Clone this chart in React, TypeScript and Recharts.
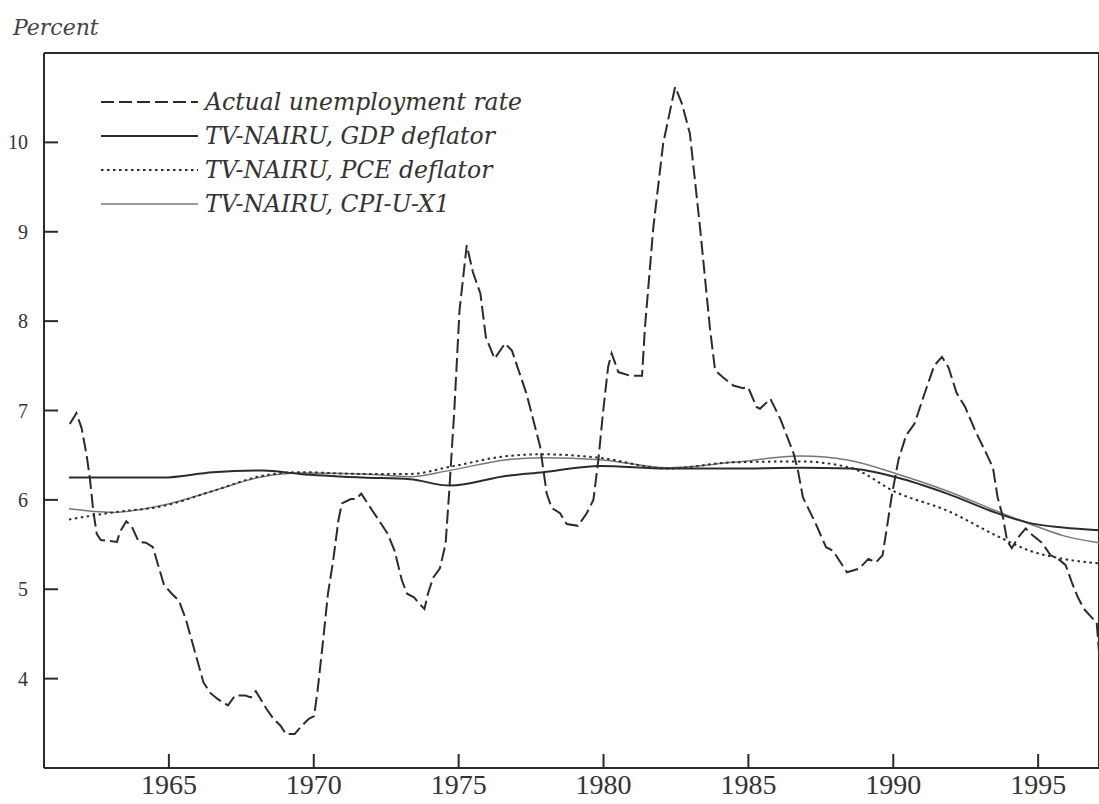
import React from "react";
import { LineChart, Line, XAxis, YAxis, ReferenceLine, Legend } from "recharts";

// actual unemployment rate
const unempYears = [
  1961.58, 1961.81, 1961.99, 1962.16, 1962.27, 1962.39, 1962.51, 1962.65, 1962.96, 1963.21,
  1963.31, 1963.53, 1963.72, 1963.96, 1964.21, 1964.45, 1964.62, 1964.83, 1965.1, 1965.35,
  1965.59, 1965.89, 1966.19, 1966.43, 1966.69, 1967.04, 1967.28, 1967.64, 1967.83, 1968.0,
  1968.37, 1968.61, 1968.86, 1969.04, 1969.34, 1969.58, 1969.83, 1970.01, 1970.13, 1970.31,
  1970.49, 1970.67, 1970.85, 1970.97, 1971.28, 1971.46, 1971.64, 1971.94, 1972.25, 1972.55,
  1972.79, 1973.04, 1973.22, 1973.46, 1973.64, 1973.82, 1973.94, 1974.12, 1974.35, 1974.55,
  1974.67, 1974.85, 1975.03, 1975.28, 1975.49, 1975.75, 1975.94, 1976.24, 1976.6, 1976.84,
  1977.34, 1977.81, 1978.04, 1978.21, 1978.5, 1978.73, 1979.12, 1979.42, 1979.65, 1979.82,
  1979.99, 1980.16, 1980.28, 1980.51, 1980.91, 1981.33, 1981.43, 1981.72, 1982.06, 1982.47,
  1982.7, 1982.98, 1983.33, 1983.67, 1983.85, 1984.13, 1984.48, 1984.82, 1984.99, 1985.28,
  1985.4, 1985.76, 1986.11, 1986.56, 1986.71, 1986.88, 1987.3, 1987.68, 1987.92, 1988.4,
  1988.82, 1989.14, 1989.4, 1989.63, 1989.78, 1989.96, 1990.18, 1990.44, 1990.73, 1991.06,
  1991.41, 1991.68, 1991.91, 1992.18, 1992.48, 1992.82, 1993.18, 1993.44, 1993.6, 1993.79,
  1993.93, 1994.09, 1994.31, 1994.57, 1994.82, 1995.13, 1995.43, 1995.69, 1995.95, 1996.16,
  1996.37, 1996.58, 1996.86, 1997.02, 1997.1,
];
const unempRate = [
  6.85, 6.97, 6.8, 6.5, 6.25, 5.88, 5.62, 5.55, 5.54, 5.53,
  5.64, 5.76, 5.7, 5.53, 5.52, 5.47, 5.28, 5.05, 4.95, 4.87,
  4.66, 4.31, 3.96, 3.84, 3.77, 3.7, 3.81, 3.81, 3.79, 3.86,
  3.66, 3.55, 3.47, 3.38, 3.38, 3.47, 3.55, 3.58, 3.86, 4.39,
  4.95, 5.32, 5.77, 5.96, 6.01, 6.01, 6.07, 5.92, 5.77, 5.62,
  5.43, 5.1, 4.95, 4.91, 4.84, 4.78, 4.95, 5.13, 5.23, 5.51,
  6.07, 7.0, 8.12, 8.85, 8.55, 8.31, 7.82, 7.58, 7.75, 7.67,
  7.19, 6.6, 6.07, 5.91, 5.85, 5.73, 5.71, 5.85, 6.0, 6.44,
  7.0, 7.49, 7.64, 7.43, 7.39, 7.39, 7.93, 9.05, 9.99, 10.62,
  10.44, 10.1, 9.05, 7.93, 7.45, 7.37, 7.28, 7.25, 7.26, 7.04,
  7.02, 7.13, 6.9, 6.52, 6.33, 6.03, 5.75, 5.47, 5.43, 5.19,
  5.23, 5.34, 5.3, 5.38, 5.69, 6.07, 6.45, 6.72, 6.85, 7.17,
  7.5, 7.6, 7.48, 7.2, 7.04, 6.78, 6.54, 6.36, 6.03, 5.8,
  5.54, 5.46, 5.58, 5.68, 5.6, 5.52, 5.38, 5.34, 5.27, 5.08,
  4.91, 4.78, 4.68, 4.63, 4.3,
];

// time-varying NAIRU estimates
const nairuYears = [
  1961.55, 1963.07, 1964.79, 1966.52, 1968.24, 1969.52, 1971.7, 1973.32, 1974.7, 1976.67,
  1977.91, 1979.88, 1982.19, 1984.47, 1986.78, 1988.51, 1990.13, 1991.86, 1993.68, 1994.72,
  1995.86, 1997.1,
];
const gdpNairu = [
  6.25, 6.25, 6.25, 6.31, 6.33, 6.29, 6.25, 6.23, 6.16, 6.27,
  6.31, 6.38, 6.35, 6.35, 6.36, 6.35, 6.25, 6.07, 5.84, 5.74,
  5.69, 5.66,
];
const pceNairu = [
  5.78, 5.86, 5.93, 6.1, 6.27, 6.31, 6.29, 6.29, 6.37, 6.49,
  6.51, 6.47, 6.35, 6.42, 6.43, 6.36, 6.08, 5.88, 5.58, 5.43,
  5.34, 5.29,
];
const cpiNairu = [
  5.9, 5.86, 5.94, 6.1, 6.26, 6.3, 6.29, 6.26, 6.33, 6.45,
  6.47, 6.45, 6.36, 6.42, 6.49, 6.44, 6.29, 6.1, 5.86, 5.73,
  5.6, 5.52,
];

const yearTicks = [1965, 1970, 1975, 1980, 1985, 1990, 1995];
const rateTicks = [4, 5, 6, 7, 8, 9, 10];

const X_MIN = 1960.69;
const X_MAX = 1997.1;

const unempData = unempYears.map((year, i) => ({ year, rate: unempRate[i] }));
const nairuData = nairuYears.map((year, i) => ({
  year,
  gdp: gdpNairu[i],
  pce: pceNairu[i],
  cpi: cpiNairu[i],
}));

const INK = "#2b2b2b";
const SERIF = "'Liberation Serif', 'Times New Roman', serif";
const ITALIC = "'DejaVu Serif', serif";

const legendItems = [
  { label: "Actual unemployment rate", stroke: INK, width: 2, dash: "13 5" },
  { label: "TV-NAIRU, GDP deflator", stroke: INK, width: 2, dash: undefined },
  { label: "TV-NAIRU, PCE deflator", stroke: INK, width: 2, dash: "2.5 3.5" },
  { label: "TV-NAIRU, CPI-U-X1", stroke: "#777", width: 1.5, dash: undefined },
];

const renderLegend = () => (
  <div style={{ fontFamily: ITALIC, fontStyle: "italic", fontSize: 23.5, color: "#333" }}>
    {legendItems.map((item) => (
      <div key={item.label} style={{ display: "flex", alignItems: "center", height: 34 }}>
        <svg width={98} height={10}>
          <line x1={0} y1={5} x2={97} y2={5} stroke={item.stroke} strokeWidth={item.width} strokeDasharray={item.dash} />
        </svg>
        <span style={{ marginLeft: 6, whiteSpace: "nowrap" }}>{item.label}</span>
      </div>
    ))}
  </div>
);

export default function App() {
  return (
    <div style={{ position: "relative", width: 1099, height: 804, background: "#fff" }}>
      <style>{"body{margin:0}"}</style>
      <div
        style={{
          position: "absolute",
          left: 13,
          top: 15,
          fontFamily: ITALIC,
          fontStyle: "italic",
          fontSize: 22,
          color: "#444",
        }}
      >
        Percent
      </div>
      <LineChart width={1099} height={804} margin={{ top: 53, right: 0, bottom: 0, left: 0 }}>
        <XAxis
          type="number"
          dataKey="year"
          domain={[X_MIN, X_MAX]}
          allowDataOverflow
          ticks={yearTicks}
          height={36}
          tickSize={-14}
          tickMargin={20}
          stroke={INK}
          strokeWidth={2}
          tick={{ fill: "#333", fontFamily: SERIF, fontSize: 28 }}
        />
        <YAxis
          type="number"
          domain={[3, 11]}
          allowDataOverflow
          ticks={rateTicks}
          width={44}
          tickSize={-14}
          tickMargin={30}
          stroke={INK}
          strokeWidth={2}
          tick={{ fill: "#333", fontFamily: SERIF, fontSize: 20 }}
        />
        <ReferenceLine y={11} stroke={INK} strokeWidth={2} />
        <ReferenceLine x={X_MAX} stroke={INK} strokeWidth={2} />
        <Legend
          layout="vertical"
          align="center"
          verticalAlign="middle"
          content={renderLegend}
          wrapperStyle={{ left: 101, top: 85, width: "auto" }}
        />
        <Line
          data={nairuData}
          dataKey="cpi"
          type="monotone"
          stroke="#777"
          strokeWidth={1.5}
          dot={false}
          isAnimationActive={false}
        />
        <Line
          data={nairuData}
          dataKey="pce"
          type="monotone"
          stroke={INK}
          strokeWidth={2}
          strokeDasharray="2.5 3.5"
          dot={false}
          isAnimationActive={false}
        />
        <Line
          data={nairuData}
          dataKey="gdp"
          type="monotone"
          stroke={INK}
          strokeWidth={2}
          dot={false}
          isAnimationActive={false}
        />
        <Line
          data={unempData}
          dataKey="rate"
          type="linear"
          stroke={INK}
          strokeWidth={2}
          strokeDasharray="14 5"
          dot={false}
          isAnimationActive={false}
        />
      </LineChart>
    </div>
  );
}
